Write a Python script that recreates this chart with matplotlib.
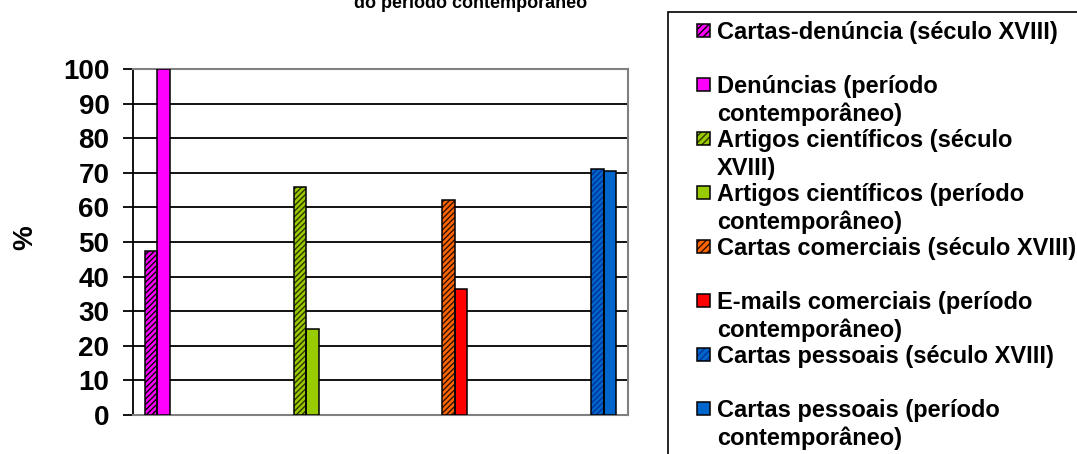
import matplotlib.pyplot as plt
from matplotlib.patches import Rectangle

plt.rcParams['font.family'] = ['Liberation Sans', 'DejaVu Sans']
plt.rcParams['font.weight'] = 'bold'

W, H = 1077, 454

categories = ['Denúncias', 'Artigos científicos', 'Cartas/E-mails comerciais', 'Cartas pessoais']
labels = ['Cartas-denúncia (século XVIII)',
          'Denúncias (período\ncontemporâneo)',
          'Artigos científicos (século\nXVIII)',
          'Artigos científicos (período\ncontemporâneo)',
          'Cartas comerciais (século XVIII)',
          'E-mails comerciais (período\ncontemporâneo)',
          'Cartas pessoais (século XVIII)',
          'Cartas pessoais (período\ncontemporâneo)']
values = [47.5, 100, 66, 25, 62, 36.5, 71, 70.5]
series_cat = [0, 0, 1, 1, 2, 2, 3, 3]
colors = ['#ff00ff', '#ff00ff', '#99cc00', '#99cc00', '#ff6600', '#ff0000', '#0066cc', '#0066cc']
hatch_colors = ['#000000', None, '#333300', None, '#331100', None, '#003399', None]
hatched = [True, False, True, False, True, False, True, False]

fig = plt.figure(figsize=(W / 100, H / 100), dpi=100)
ax = fig.add_axes([133 / W, 1 - 415 / H, (628 - 133) / W, (415 - 69) / H])

w = 0.101
for s, v in enumerate(values):
    x = series_cat[s] + (s - 3.5) * w
    if hatched[s]:
        plt.rcParams['hatch.color'] = hatch_colors[s]
        ax.bar(x, v, w, color=colors[s], edgecolor=hatch_colors[s], hatch='//////', linewidth=0, zorder=3)
        ax.bar(x, v, w, fill=False, edgecolor='black', linewidth=1.1, zorder=4)
    else:
        ax.bar(x, v, w, color=colors[s], edgecolor='black', linewidth=1.1, zorder=3)

ax.set_xlim(-0.5, 3.5)
ax.set_ylim(0, 100)
ax.set_yticks(range(0, 101, 10))
ax.set_xticks([])
ax.yaxis.grid(True, color='black', linewidth=1.3, zorder=1)
ax.set_axisbelow(True)
for side in ['top', 'right', 'bottom']:
    ax.spines[side].set_color('#808080')
    ax.spines[side].set_linewidth(1.5)
ax.spines['left'].set_color('black')
ax.spines['left'].set_linewidth(1.3)
ax.tick_params(axis='y', length=7, width=1.3, pad=10, labelsize=20)
fig.text(25 / W, 1 - 238 / H, '%', rotation=90, ha='center', va='center', fontsize=20, fontweight='bold')

# title (cut off at top edge, as in the original)
fig.text(471 / W, 1 - 8 / H, 'do período contemporâneo', ha='center', va='baseline',
         fontsize=13, fontweight='bold')

# legend box
fig.add_artist(Rectangle((668 / W, -0.1), 1, (H - 12) / H + 0.1, transform=fig.transFigure,
                         fill=False, edgecolor='black', linewidth=1.2))
for i, lab in enumerate(labels):
    yc = 30 + 54 * i
    if hatched[i]:
        plt.rcParams['hatch.color'] = hatch_colors[i]
        fig.add_artist(Rectangle((697 / W, 1 - (yc + 6.5) / H), 13 / W, 13 / H, transform=fig.transFigure,
                                 facecolor=colors[i], edgecolor=hatch_colors[i], hatch='/////', linewidth=0))
    fig.add_artist(Rectangle((697 / W, 1 - (yc + 6.5) / H), 13 / W, 13 / H, transform=fig.transFigure,
                             facecolor=colors[i] if not hatched[i] else 'none', edgecolor='black', linewidth=1.1))
    for k, line in enumerate(lab.split('\n')):
        fig.text(717 / W, 1 - (yc + 8.5 + 28 * k) / H, line, ha='left', va='baseline',
                 fontsize=17, fontweight='bold')

fig.savefig('out.png', dpi=100)
